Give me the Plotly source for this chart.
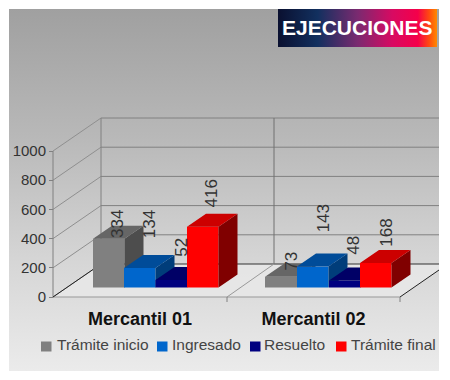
import plotly.graph_objects as go

# ---- data ----
categories = ["Mercantil 01", "Mercantil 02"]
series_names = ["Trámite inicio", "Ingresado", "Resuelto", "Trámite final"]
tramite_inicio = [334, 73]
ingresado = [134, 143]
resuelto = [52, 48]
tramite_final = [416, 168]
y_ticks = [0, 200, 400, 600, 800, 1000]

series_values = [tramite_inicio, ingresado, resuelto, tramite_final]

# ---- styles / geometry ----
PAGE = 8          # default body margin of the page
W, H = 450, 380
Y0 = 297          # pixel row of value 0 on the front axis
S = 0.146         # pixels per value unit
def v(px):        # pixel row -> value axis unit
    return (Y0 - px) / S

front = ["#808080", "#0066cc", "#000080", "#ff0000"]
top = ["#666666", "#004c99", "#000066", "#cc0000"]
side = ["#4d4d4d", "#003d7a", "#00004d", "#800000"]
bar_left = [[93, 265], [124, 297], [155.5, 329], [187, 360]]
bar_w = 31.5
base_px = 287.5
depth_dx, depth_px = 19, 13
label_dx = [[8.5, 10.5], [10.5, 11], [10, 9], [9, 11]]
label_lift = [[0, 5], [29, 33], [22, 25], [18, 15]]
cat_pos = [140, 313.5]

base = v(base_px)
depth = depth_px / S

fig = go.Figure()

# background panel and title banner
fig.add_trace(go.Scatter(
    x=[9, 439, 439, 9, 9], y=[v(9), v(9), v(371), v(371), v(9)],
    mode="lines", line_width=0, fill="toself", hoverinfo="skip", showlegend=False,
    fillgradient=dict(type="vertical", start=v(9), stop=v(371),
                      colorscale=[[0, "#a0a0a0"], [0.35, "#b8b8b8"], [0.7, "#d6d6d6"], [1, "#ebebeb"]]),
    zorder=-5))
fig.add_trace(go.Scatter(
    x=[278, 437, 437, 278, 278], y=[v(9), v(9), v(47), v(47), v(9)],
    mode="lines", line_width=0, fill="toself", hoverinfo="skip", showlegend=False,
    fillgradient=dict(type="horizontal", start=278, stop=437,
                      colorscale=[[0, "#0a1030"], [0.25, "#12305f"], [0.5, "#7a2a70"],
                                  [0.72, "#d80a62"], [0.88, "#f5004a"], [0.95, "#ff4a10"], [1, "#ff8a00"]]),
    zorder=-4))

# floor
floor_x = [53, 400, 439, 439, 101, 53]
floor_y = [v(297), v(297), v(270), v(264), v(264), v(297)]
fig.add_trace(go.Scatter(x=floor_x, y=floor_y, mode="lines", line_width=0, fill="toself",
                         fillcolor="rgba(232,232,232,0.85)", hoverinfo="skip", showlegend=False, zorder=-3))

def seg(x0, p0, x1, p1, color="#8a8a8a", w=1):
    fig.add_trace(go.Scatter(x=[x0, x1], y=[v(p0), v(p1)], mode="lines",
                             line=dict(color=color, width=w), hoverinfo="skip",
                             showlegend=False, zorder=-2))

for t in y_ticks:
    row = Y0 - t * S
    seg(53, row, 101, row - 33, "#8f8f8f")
    seg(101, row - 33, 439, row - 33, "#333333" if t == 0 else "#808080")
seg(53, Y0, 53, Y0 - 1000 * S, "#808080")
seg(101, Y0 - 33, 101, Y0 - 33 - 1000 * S, "#808080")
seg(274, Y0 - 33, 274, Y0 - 33 - 1000 * S, "#707070")
seg(53, Y0, 400, Y0, "#999999")
seg(53, Y0, 101, Y0 - 33, "#222222")
seg(227, Y0, 274, Y0 - 33, "#999999")
seg(400, Y0, 439, Y0 - 27, "#222222")
seg(227, Y0, 227, Y0 + 5, "#808080")
seg(400, Y0, 400, Y0 + 5, "#808080")

# bars: front faces through Bar traces, side and top faces derived from the same values
annotations = []
shapes = []
for i, name in enumerate(series_names):
    vals = series_values[i]
    lefts = bar_left[i]
    fig.add_trace(go.Bar(x=[l + bar_w / 2 for l in lefts], y=vals, base=[base] * 2, width=bar_w,
                         name=name, marker=dict(color=front[i], line_width=0),
                         showlegend=False, zorder=i))
    sx, sy, tx, ty = [], [], [], []
    for l, val in zip(lefts, vals):
        r = l + bar_w
        t_ = base + val
        sx += [r, r + depth_dx, r + depth_dx, r, r, None]
        sy += [base, base + depth, t_ + depth, t_, base, None]
        tx += [l, r, r + depth_dx, l + depth_dx, l, None]
        ty += [t_, t_, t_ + depth, t_ + depth, t_, None]
    fig.add_trace(go.Scatter(x=sx, y=sy, mode="lines", line_width=0, fill="toself", fillcolor=side[i],
                             hoverinfo="skip", showlegend=False, zorder=i))
    fig.add_trace(go.Scatter(x=tx, y=ty, mode="lines", line_width=0, fill="toself", fillcolor=top[i],
                             hoverinfo="skip", showlegend=False, zorder=i))
    for j, (l, val) in enumerate(zip(lefts, vals)):
        annotations.append(dict(
            x=l + bar_w / 2 + label_dx[i][j], y=base + val + label_lift[i][j] / S,
            xref="x", yref="y", text=str(val), textangle=-90, showarrow=False,
            xanchor="center", yanchor="bottom",
            font=dict(family="Liberation Sans", size=17, color="#333333"),
            borderpad=0))

# title text
annotations.append(dict(x=357, y=v(27), xref="x", yref="y", text="<b>EJECUCIONES</b>", showarrow=False,
                        font=dict(family="Liberation Sans", size=21, color="#ffffff")))

# hand-placed legend row
legend_sw = [41, 157, 250, 336]
legend_tx = [56, 171, 263, 350]
for i, name in enumerate(series_names):
    shapes.append(dict(type="rect", xref="x", yref="y", x0=legend_sw[i], x1=legend_sw[i] + 10.5,
                       y0=v(341.5), y1=v(351.5), fillcolor=front[i], line_width=0, layer="above"))
    annotations.append(dict(x=legend_tx[i], y=v(344.5), xref="x", yref="y", text=name, showarrow=False,
                            xanchor="left", yanchor="middle", borderpad=0,
                            font=dict(family="Liberation Sans", size=15.5, color="#444444")))

fig.update_layout(
    width=W - PAGE, height=H - PAGE, autosize=False, margin=dict(l=0, r=0, t=0, b=0),
    paper_bgcolor="#ffffff", plot_bgcolor="#ffffff", showlegend=False, barmode="overlay",
    shapes=shapes, annotations=annotations,
    xaxis=dict(range=[PAGE, W], domain=[0, 1], showgrid=False, zeroline=False, showline=False,
               tickmode="array",
               tickvals=cat_pos,
               ticktext=["<b>%s</b>" % c for c in categories],
               tickfont=dict(family="Liberation Sans", size=18, color="#111111"),
               ticks="", anchor="free", position=(H - Y0) / (H - PAGE), ticklabelstandoff=9),
    yaxis=dict(range=[v(H), v(PAGE)], domain=[0, 1], showgrid=False, zeroline=False, showline=False,
               tickmode="array", tickvals=y_ticks, ticktext=[str(t) for t in y_ticks],
               tickfont=dict(family="Liberation Sans", size=15, color="#333333"),
               ticks="outside", ticklen=4, tickcolor="#808080",
               anchor="free", position=(53 - PAGE) / (W - PAGE)),
)
fig.write_html("out.html")
